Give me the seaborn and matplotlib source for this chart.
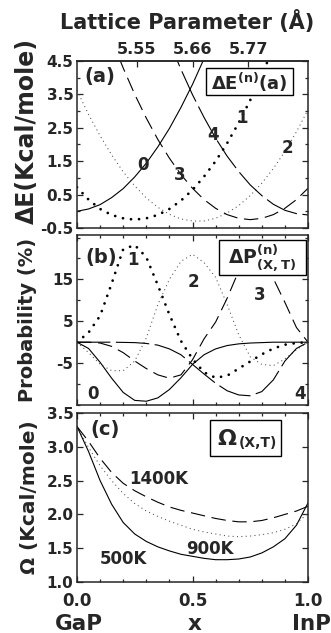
import matplotlib
matplotlib.use("Agg")
import matplotlib.pyplot as plt
import seaborn as sns
from matplotlib.patches import Rectangle

# ---------------- data ----------------
x_grid = [0.00, 0.05, 0.10, 0.15, 0.20, 0.25, 0.30, 0.35, 0.40, 0.45, 0.50,
          0.55, 0.60, 0.65, 0.70, 0.75, 0.80, 0.85, 0.90, 0.95, 1.00]

# (a) Delta E^(n)(a), Kcal/mole
dE_0 = [0.00, 0.07, 0.20, 0.41, 0.68, 1.03, 1.44, 1.93, 2.48, 3.11, 3.80,
        4.57, 5.40, 6.30, 7.28, 8.33, 9.44, 10.6, 11.9, 13.2, 14.6]
dE_1 = [0.72, 0.35, 0.07, -0.11, -0.21, -0.25, -0.21, -0.11, 0.07, 0.32, 0.64,
        1.04, 1.50, 2.04, 2.65, 3.33, 4.08, 4.90, 5.79, 6.76, 7.79]
dE_2 = [3.62, 2.90, 2.26, 1.69, 1.18, 0.76, 0.40, 0.12, -0.09, -0.23, -0.29,
        -0.29, -0.21, -0.05, 0.17, 0.47, 0.84, 1.28, 1.79, 2.38, 3.04]
dE_3 = [8.19, 7.10, 6.09, 5.15, 4.29, 3.50, 2.79, 2.15, 1.59, 1.10, 0.69,
        0.35, 0.09, -0.10, -0.21, -0.25, -0.21, -0.10, 0.09, 0.35, 0.69]
dE_4 = [14.29, 12.89, 11.55, 10.29, 9.10, 7.99, 6.95, 5.97, 5.07, 4.25, 3.49,
        2.81, 2.19, 1.65, 1.19, 0.79, 0.47, 0.21, 0.03, -0.07, -0.11]

# (b) Delta P^(n)(x,T), %
dP_0 = [0.0, -1.5, -4.8, -8.6, -12.0, -13.9, -14.1, -13.3, -11.3, -8.5, -5.3,
        -3.0, -1.6, -0.8, -0.4, -0.2, -0.1, 0.0, 0.0, 0.0, 0.0]
dP_1 = [0.0, 2.3, 6.3, 14.0, 22.2, 23.2, 20.3, 13.6, 6.6, 0.3, -4.0,
        -7.2, -8.5, -8.0, -6.3, -4.6, -2.9, -1.5, -0.6, -0.2, 0.0]
dP_2 = [0.0, -2.5, -5.3, -6.8, -6.8, -4.5, 1.0, 9.0, 15.0, 19.3, 21.0,
        19.0, 15.5, 9.0, 1.8, -3.5, -5.3, -5.6, -4.0, -1.8, 0.0]
dP_3 = [0.0, 0.0, -0.2, -1.0, -2.5, -4.5, -6.3, -7.8, -8.6, -7.8, -4.2,
        0.8, 4.8, 10.5, 17.0, 21.5, 20.5, 15.2, 9.5, 3.5, 0.0]
dP_4 = [0.0, 0.0, 0.0, 0.0, -0.05, -0.1, -0.3, -0.7, -1.6, -3.0, -5.3,
        -7.6, -9.8, -11.6, -12.6, -12.8, -11.8, -9.0, -4.5, -1.5, 0.0]

# (c) Omega(x,T), Kcal/mole
omega_500 = [3.30, 2.93, 2.50, 2.15, 1.88, 1.71, 1.60, 1.52, 1.46, 1.41, 1.38,
             1.35, 1.33, 1.33, 1.34, 1.37, 1.43, 1.52, 1.64, 1.84, 2.17]
omega_900 = [3.30, 2.99, 2.72, 2.50, 2.31, 2.16, 2.05, 1.97, 1.90, 1.84, 1.78,
             1.74, 1.71, 1.68, 1.67, 1.68, 1.70, 1.73, 1.78, 1.86, 2.02]
omega_1400 = [3.30, 3.08, 2.83, 2.62, 2.46, 2.35, 2.26, 2.18, 2.11, 2.06, 2.02,
              1.98, 1.94, 1.91, 1.89, 1.89, 1.91, 1.95, 2.00, 2.05, 2.12]

lattice_ticks = [5.55, 5.66, 5.77]
x_ticks = [0.0, 0.5, 1.0]
x_ticklabels = ["0.0", "0.5", "1.0"]
yticks_a = [-0.5, 0.5, 1.5, 2.5, 3.5, 4.5]
yticks_b = [-5, 5, 15]
yticks_c = [1.0, 1.5, 2.0, 2.5, 3.0, 3.5]

# ---------------- style ----------------
sns.set_style("ticks")
plt.rcParams['font.family'] = ['DejaVu Sans']
plt.rcParams['font.weight'] = 'bold'
plt.rcParams['mathtext.fontset'] = 'dejavusans'
plt.rcParams['axes.linewidth'] = 1.1

K = 'black'
BIGDOT = dict(lw=2.0, linestyle=(0, (0.01, 2.9)), dash_capstyle='round', color=K)
FINEDOT = dict(lw=0.75, linestyle=(0, (1.0, 3.2)), color='0.3')
LONGDASH = dict(lw=0.8, linestyle=(0, (13, 6)), color=K)
DASH4 = dict(lw=0.8, linestyle=(0, (30, 5)), color=K)
SOLID = dict(lw=0.8, linestyle='-', color=K)

fig = plt.figure(figsize=(3.31, 6.33), dpi=100)
W, H = 331.0, 633.0
L, R = 77 / W, 308 / W


def axes_px(top, bottom):
    return fig.add_axes([L, 1 - bottom / H, R - L, (bottom - top) / H])


ax_a = axes_px(61, 228)
ax_b = axes_px(235, 405)
ax_c = axes_px(413, 582)


def line(ax, y, style):
    sns.lineplot(x=x_grid, y=y, ax=ax, sort=False, **style)


for ax in (ax_a, ax_b, ax_c):
    ax.set_xlim(0, 1)
    ax.set_xticks(x_ticks)
    ax.set_xticks([0.1, 0.2, 0.3, 0.4, 0.6, 0.7, 0.8, 0.9], minor=True)
    ax.tick_params(which='both', direction='in', right=True, top=True,
                   labelsize=11, pad=2.5, width=0.9)
    ax.tick_params(which='major', length=4)
    ax.tick_params(which='minor', length=2)
    ax.set_xlabel("")
    ax.set_ylabel("")

# ---------------- (a) ----------------
line(ax_a, dE_0, SOLID)
line(ax_a, dE_1, BIGDOT)
line(ax_a, dE_2, FINEDOT)
line(ax_a, dE_3, LONGDASH)
line(ax_a, dE_4, DASH4)
ax_a.set_ylim(-0.5, 4.5)
ax_a.set_yticks(yticks_a)
ax_a.set_yticks([0, 1, 2, 3, 4], minor=True)
ax_a.set_yticklabels([f"{v:.1f}" for v in yticks_a])
ax_a.set_xticklabels([])
ax_a.tick_params(top=False, which='both')

sec = ax_a.secondary_xaxis('top', functions=(lambda x: 5.433 + 0.454 * x,
                                             lambda a: (a - 5.433) / 0.454))
sec.set_xticks(lattice_ticks)
sec.set_xticklabels([f"{v:.2f}" for v in lattice_ticks])
sec.tick_params(direction='in', length=4, labelsize=11.5, pad=3, width=0.9)
sec.set_xlabel("")

ax_a.add_patch(Rectangle((0.56, 3.48), 0.375, 0.80, transform=ax_a.transData,
                         facecolor='white', edgecolor=K, lw=1.0, zorder=5))
ax_a.text(0.7475, 3.86, r"$\mathbf{\Delta E^{(n)}(a)}$", fontsize=13,
          ha='center', va='center', zorder=6)
ax_a.text(0.10, 4.03, "(a)", fontsize=14, ha='center', va='center', zorder=6)
for t, (xx, yy) in {"0": (0.287, 1.39), "3": (0.445, 1.09), "4": (0.59, 2.28),
                    "1": (0.713, 2.78), "2": (0.91, 1.89)}.items():
    ax_a.text(xx, yy, t, fontsize=12, ha='center', va='center', zorder=6)

# ---------------- (b) ----------------
line(ax_b, dP_0, SOLID)
line(ax_b, dP_1, BIGDOT)
line(ax_b, dP_2, FINEDOT)
line(ax_b, dP_3, LONGDASH)
line(ax_b, dP_4, DASH4)
ax_b.set_ylim(-15, 25.6)
ax_b.set_yticks(yticks_b)
ax_b.set_yticks([-15, -10, 0, 10, 20, 25], minor=True)
ax_b.set_yticklabels([str(v) for v in yticks_b])
ax_b.set_xticklabels([])

ax_b.add_patch(Rectangle((0.614, 16.0), 0.376, 8.4, transform=ax_b.transData,
                         facecolor='white', edgecolor=K, lw=1.0, zorder=5))
ax_b.text(0.802, 20.0, r"$\mathbf{\Delta P^{(n)}_{(X,T)}}$", fontsize=13.5,
          ha='center', va='center', zorder=6)
ax_b.text(0.105, 20.3, "(b)", fontsize=14, ha='center', va='center', zorder=6)
for t, (xx, yy) in {"1": (0.243, 19.6), "2": (0.503, 14.4), "3": (0.79, 11.2),
                    "0": (0.07, -12.3), "4": (0.965, -12.3)}.items():
    ax_b.text(xx, yy, t, fontsize=12, ha='center', va='center', zorder=6)

# ---------------- (c) ----------------
line(ax_c, omega_500, SOLID)
line(ax_c, omega_900, FINEDOT)
line(ax_c, omega_1400, LONGDASH)
ax_c.set_ylim(1.0, 3.5)
ax_c.set_yticks(yticks_c)
ax_c.set_yticklabels([f"{v:.1f}" for v in yticks_c])
ax_c.set_xticklabels(x_ticklabels)
ax_c.tick_params(axis='x', labelsize=12, pad=7)

ax_c.add_patch(Rectangle((0.575, 2.86), 0.31, 0.54, transform=ax_c.transData,
                         facecolor='white', edgecolor=K, lw=1.0, zorder=5))
ax_c.text(0.649, 3.11, "Ω", fontsize=16, ha='center', va='center', zorder=6)
ax_c.text(0.785, 3.06, "(X,T)", fontsize=10, ha='center', va='center', zorder=6)
ax_c.text(0.12, 3.25, "(c)", fontsize=14, ha='center', va='center', zorder=6)
for t, (xx, yy) in {"1400K": (0.352, 2.53), "900K": (0.575, 1.49),
                    "500K": (0.20, 1.34)}.items():
    ax_c.text(xx, yy, t, fontsize=12, ha='center', va='center', zorder=6)

# ---------------- figure-level text ----------------
fig.text(187 / W, 1 - 21 / H, "Lattice Parameter (Å)", fontsize=15,
         ha='center', va='center')
fig.text(27 / W, 1 - 131 / H, "ΔE(Kcal/mole)", fontsize=17, rotation=90,
         ha='center', va='center')
fig.text(28 / W, 1 - 320 / H, "Probability (%)", fontsize=14, rotation=90,
         ha='center', va='center')
fig.text(29 / W, 1 - 497 / H, "Ω (Kcal/mole)", fontsize=14.5, rotation=90,
         ha='center', va='center')
fig.text(79 / W, 0.004, "GaP", fontsize=15.5, ha='center', va='baseline')
fig.text(195 / W, 0.004, "x", fontsize=15.5, ha='center', va='baseline')
fig.text(311 / W, 0.004, "InP", fontsize=15.5, ha='center', va='baseline')

fig.savefig("out.png", dpi=100)
